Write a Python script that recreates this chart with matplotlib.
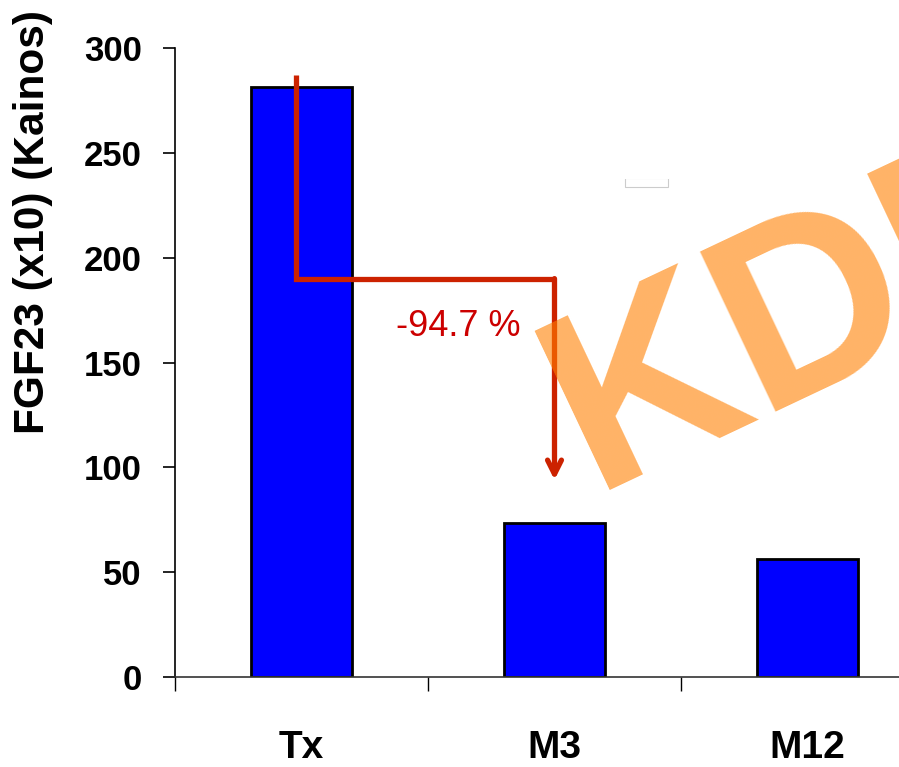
import matplotlib.pyplot as plt
from matplotlib.patches import Rectangle

# FGF23 values per visit
visits = ['Tx', 'M3', 'M12']
fgf23 = [281.5, 73.5, 56.5]

# change annotation: from Tx down to M3
drop_label = '-94.7 %'
path_x = [-0.02, -0.02, 1]
path_y = [287, 190, 190]
arrow_tip = 94

lib = ['Liberation Sans', 'DejaVu Sans']

fig = plt.figure(figsize=(8.99, 7.67), dpi=100)
ax = fig.add_axes([175 / 899, 90 / 767, 759 / 899, 629 / 767])

ax.bar(range(len(visits)), fgf23, width=0.40, color='#0000FF',
       edgecolor='black', linewidth=2, zorder=2)

ax.set_xlim(-0.5, 2.5)
ax.set_ylim(0, 300)
ax.set_yticks(range(0, 301, 50))
ax.set_xticks([-0.5, 0.5, 1.5], minor=False)
ax.set_xticklabels([])
ax.set_xticks(range(len(visits)), minor=True)
ax.set_xticklabels(visits, minor=True)

for s in ['top', 'right']:
    ax.spines[s].set_visible(False)
ax.spines['left'].set_linewidth(1.2)
ax.spines['bottom'].set_linewidth(1.2)
ax.spines['bottom'].set_color('#333333')

ax.tick_params(axis='y', direction='out', length=9, width=1.2, pad=15)
ax.tick_params(axis='x', which='major', direction='out', length=10, width=1.0)
ax.tick_params(axis='x', which='minor', length=0, pad=38)
for lab in ax.get_yticklabels():
    lab.set_family(lib)
    lab.set_fontweight('bold')
    lab.set_fontsize(25)
for lab in ax.get_xticklabels(minor=True):
    lab.set_family(lib)
    lab.set_fontweight('bold')
    lab.set_fontsize(28)

fig.text(33 / 899, 1 - 222 / 767, 'FGF23 (x10) (Kainos)', rotation=90,
         ha='center', va='center', fontsize=30.5, fontweight='bold',
         family=lib)

# red elbow arrow
red = '#CC2200'
ax.plot(path_x, path_y, color=red, linewidth=3.8, solid_joinstyle='miter',
        solid_capstyle='butt', zorder=3, clip_on=False)
ax.annotate('', xy=(1, arrow_tip), xytext=(1, 190),
            arrowprops=dict(arrowstyle='->,head_length=1.0,head_width=0.5',
                            color=red, lw=3.8, shrinkA=0, shrinkB=0),
            zorder=3)
ax.text(0.62, 167, drop_label, color='#CC0000', fontsize=26,
        ha='center', va='center', family=lib)

# small box outline
box = Rectangle((625 / 899, 1 - 187 / 767), 43 / 899, 9 / 767,
                transform=fig.transFigure, fill=False, edgecolor='#CCCCCC',
                linewidth=0.8)
fig.patches.append(box)
fig.add_artist(plt.Line2D([625 / 899, 668 / 899], [1 - 178 / 767] * 2,
                          color='white', linewidth=1.5,
                          transform=fig.transFigure))

# watermark
fig.text(593 / 899, 1 - 490 / 767, 'KDI', rotation=25.3,
         rotation_mode='anchor', ha='left', va='baseline',
         fontsize=184, fontweight='bold',
         color='#FF8000', alpha=0.6, family=lib, zorder=5)

fig.savefig('out.png', dpi=100)
